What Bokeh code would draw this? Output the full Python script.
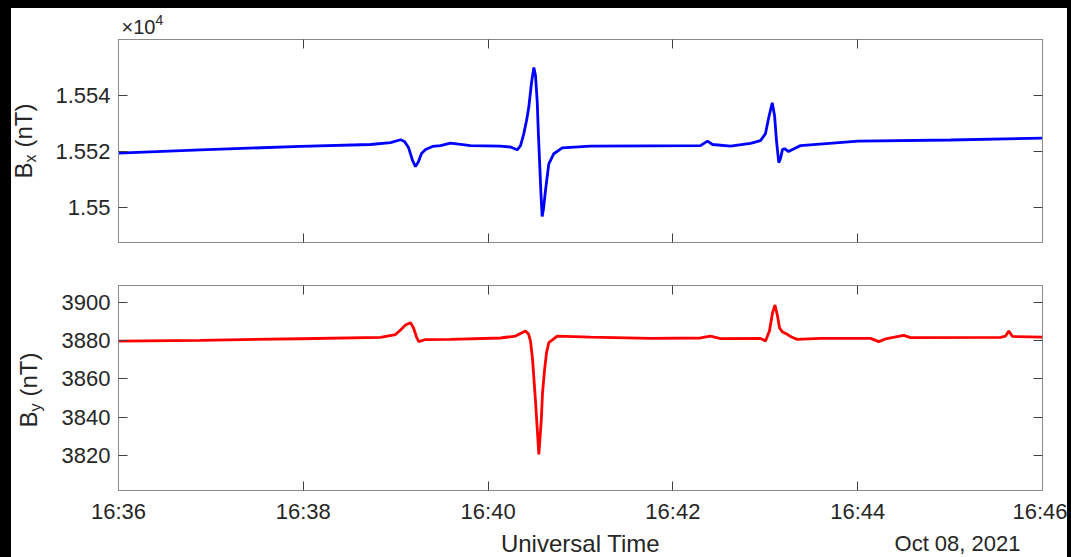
import math
import datetime as dt
from bokeh.plotting import figure
from bokeh.models import FixedTicker, LinearAxis, Range1d, ColumnDataSource
from bokeh.layouts import column, row
from bokeh.core.properties import value
from bokeh.embed import file_html
from bokeh.resources import INLINE

# ---------------- data (minutes after 16:36:00 UT, 2021-10-08) ----------------
BX_TIME_MIN = [0.000, 0.887, 1.970, 2.727, 2.944, 3.052, 3.095, 3.139, 3.182, 3.214,
               3.247, 3.279, 3.323, 3.398, 3.485, 3.593, 3.810, 4.134, 4.242, 4.315,
               4.351, 4.386, 4.416, 4.440, 4.470, 4.495, 4.513, 4.531, 4.545, 4.560,
               4.573, 4.585, 4.600, 4.621, 4.657, 4.711, 4.802, 5.108, 5.758, 6.299,
               6.374, 6.429, 6.623, 6.840, 6.948, 7.002, 7.035, 7.075, 7.100, 7.121,
               7.146, 7.165, 7.186, 7.208, 7.251, 7.316, 7.381, 8.005, 9.004, 10.000]
BX_NT = [15519.4, 15520.6, 15521.8, 15522.5, 15523.2, 15524.2, 15523.6, 15521.4, 15516.8, 15514.6,
         15516.4, 15519.3, 15520.7, 15521.8, 15522.1, 15523.0, 15522.1, 15521.9, 15521.6, 15520.6,
         15522.1, 15526.3, 15531.1, 15535.7, 15544.6, 15550.0, 15547.1, 15538.2, 15525.7, 15514.3,
         15504.3, 15496.8, 15499.6, 15506.1, 15515.6, 15519.2, 15521.3, 15521.9, 15522.0, 15522.1,
         15523.7, 15522.5, 15521.9, 15522.9, 15523.9, 15526.4, 15531.8, 15537.4, 15532.9, 15523.9,
         15516.0, 15517.5, 15520.7, 15521.0, 15520.0, 15521.1, 15522.1, 15523.7, 15524.1, 15524.8]

BY_TIME_MIN = [0.000, 0.887, 1.970, 2.835, 2.998, 3.052, 3.106, 3.160, 3.193, 3.225,
               3.250, 3.323, 3.593, 4.134, 4.297, 4.361, 4.405, 4.437, 4.459, 4.481,
               4.495, 4.513, 4.531, 4.549, 4.575, 4.589, 4.610, 4.632, 4.657, 4.748,
               5.108, 5.758, 6.299, 6.407, 6.515, 6.948, 7.002, 7.045, 7.078, 7.105,
               7.132, 7.154, 7.183, 7.237, 7.284, 7.345, 7.597, 8.139, 8.228, 8.301,
               8.499, 8.571, 9.545, 9.600, 9.635, 9.675, 10.000]
BY_NT = [3879.7, 3880.1, 3880.9, 3881.6, 3883.1, 3885.5, 3888.1, 3889.3, 3886.5, 3881.8,
         3879.4, 3880.5, 3880.6, 3881.3, 3882.3, 3883.9, 3885.0, 3883.4, 3879.7, 3870.3,
         3860.6, 3848.4, 3834.5, 3820.6, 3838.0, 3852.6, 3864.1, 3873.5, 3878.9, 3882.3,
         3881.8, 3881.1, 3881.3, 3882.3, 3881.0, 3881.1, 3879.7, 3885.0, 3894.4, 3898.5,
         3892.8, 3886.5, 3884.6, 3883.2, 3881.8, 3880.6, 3881.1, 3881.1, 3879.4, 3880.8,
         3882.7, 3881.5, 3881.6, 3882.3, 3885.0, 3882.1, 3881.8]

X_TICK_MIN = [0, 2, 4, 6, 8, 10]
X_TICK_LABELS = ["16:36", "16:38", "16:40", "16:42", "16:44", "16:46"]
BX_TICKS = [15500, 15520, 15540]
BX_TICK_LABELS = ["1.55", "1.552", "1.554"]
BY_TICKS = [3820, 3840, 3860, 3880, 3900]
BY_TICK_LABELS = ["3820", "3840", "3860", "3880", "3900"]
BX_LIM = (15487.5, 15560.0)
BY_LIM = (3801.7, 3908.7)
BX_LABEL = ("B", "x", "(nT)")
BY_LABEL = ("B", "y", "(nT)")
X_TITLE = "Universal Time"
DATE_TEXT = "Oct 08, 2021"
EXP_TEXT = ("\u00d710", "4")

# ---------------- helpers ----------------
EPOCH = dt.datetime(1970, 1, 1)
T0_MS = int((dt.datetime(2021, 10, 8, 16, 36) - EPOCH).total_seconds() * 1000)


def to_ms(m):
    return T0_MS + m * 60000.0


X0, X1 = to_ms(0), to_ms(10)
XT = [int(T0_MS + m * 60000) for m in X_TICK_MIN]

FONT = "Liberation Sans"
TXT = "#262626"
FRAME_W = 924
LEFT_W = 40          # width of the y-label strip
MAIN_LEFT = 67       # left border of the plots (tick labels)
RIGHT_B = 25
TOTAL_W = LEFT_W + MAIN_LEFT + FRAME_W + RIGHT_B
TOP_H = 29           # strip with the x10^4 multiplier
P1_H = 225
P2_H = 263
BOT_H = 32
MID = 0.3465         # baseline -> middle offset, in em


def style_axis(ax, labels=True, size="22px", standoff=8):
    ax.axis_line_color = "#8a8a8a"
    ax.axis_line_width = 1
    ax.major_tick_line_color = "#404040"
    ax.major_tick_line_width = 1
    ax.major_tick_in = 9
    ax.major_tick_out = 0
    ax.minor_tick_line_color = None
    ax.major_label_text_font = FONT
    if labels:
        ax.major_label_text_color = TXT
        ax.major_label_text_font_size = size
        ax.major_label_standoff = standoff
    else:
        ax.major_label_text_color = None
        ax.major_label_text_font_size = "1px"
        ax.major_label_standoff = 0


def make_fig(lim, top_b, fh, bottom_b):
    p = figure(frame_width=FRAME_W, frame_height=fh,
               min_border_left=MAIN_LEFT, min_border_right=RIGHT_B,
               min_border_top=top_b, min_border_bottom=bottom_b,
               x_range=Range1d(X0, X1), y_range=Range1d(*lim),
               x_axis_type="datetime", output_backend="svg",
               toolbar_location=None, background_fill_color="white",
               border_fill_color="white", outline_line_color=None)
    p.grid.visible = False
    return p


def add_box_axes(p, yticks):
    r = LinearAxis(ticker=FixedTicker(ticks=yticks))
    style_axis(r, labels=False)
    p.add_layout(r, "right")
    a = LinearAxis(ticker=FixedTicker(ticks=XT))
    style_axis(a, labels=False)
    p.add_layout(a, "above")


def text_fig(w, h):
    f = figure(width=w, height=h, min_border=0, x_axis_location=None,
               y_axis_location=None, x_range=Range1d(0, w), y_range=Range1d(0, h),
               output_backend="svg", toolbar_location=None,
               background_fill_color="white", border_fill_color="white",
               outline_line_color=None)
    f.grid.visible = False
    return f


def put(f, h, x, ytop, text, px, align="left", rotated=False):
    # (x, ytop): baseline start point, pixels from the strip's left / top edge
    off = MID * px
    if rotated:
        x, ang = x - off, math.pi / 2
    else:
        ytop, ang = ytop - off, 0.0
    f.text(x=[x], y=[h - ytop], text=[text], angle=ang,
           text_font=value(FONT), text_font_size=value(f"{px}px"), text_color=TXT,
           text_align=align, text_baseline="middle")


# ---------------- top panel: Bx ----------------
p1 = make_fig(BX_LIM, 2, 203, 20)
src1 = ColumnDataSource(dict(t=[to_ms(m) for m in BX_TIME_MIN], v=BX_NT))
p1.line("t", "v", source=src1, line_color="#0000ff", line_width=2.8)
p1.yaxis.ticker = FixedTicker(ticks=BX_TICKS)
p1.yaxis.major_label_overrides = dict(zip(BX_TICKS, BX_TICK_LABELS))
style_axis(p1.yaxis[0])
p1.xaxis.ticker = FixedTicker(ticks=XT)
style_axis(p1.xaxis[0], labels=False)
add_box_axes(p1, BX_TICKS)

# ---------------- bottom panel: By ----------------
p2 = make_fig(BY_LIM, 23, 205, 35)
src2 = ColumnDataSource(dict(t=[to_ms(m) for m in BY_TIME_MIN], v=BY_NT))
p2.line("t", "v", source=src2, line_color="#ff0000", line_width=2.8)
p2.yaxis.ticker = FixedTicker(ticks=BY_TICKS)
p2.yaxis.major_label_overrides = dict(zip(BY_TICKS, BY_TICK_LABELS))
style_axis(p2.yaxis[0])
p2.xaxis.ticker = FixedTicker(ticks=XT)
p2.xaxis.major_label_overrides = dict(zip(XT, X_TICK_LABELS))
style_axis(p2.xaxis[0], standoff=8)
add_box_axes(p2, BY_TICKS)

# ---------------- text strips ----------------
LH = P1_H + P2_H
lf = text_fig(LEFT_W, LH)
for lab, bx, by in ((BX_LABEL, 20, 141), (BY_LABEL, 25, 390)):
    put(lf, LH, bx, by, lab[0], 24, rotated=True)
    put(lf, LH, bx + 5, by - 16, lab[1], 16, rotated=True)
    put(lf, LH, bx, by - 31, lab[2], 24, rotated=True)

tf = text_fig(TOTAL_W, TOP_H)
put(tf, TOP_H, 110, 25, EXP_TEXT[0], 20)
put(tf, TOP_H, 144, 16, EXP_TEXT[1], 14)

bf = text_fig(TOTAL_W, BOT_H)
put(bf, BOT_H, LEFT_W + MAIN_LEFT + FRAME_W / 2, 25, X_TITLE, 24, align="center")
put(bf, BOT_H, 1009, 25, DATE_TEXT, 22, align="right")

layout = column(tf, row(lf, column(p1, p2)), bf)

TEMPLATE = """{% block postamble %}<style>
html { background: #000000 !important; overflow: hidden !important; }
body { background: #ffffff !important; margin: 8px 0 0 11px !important; padding: 0 !important;
       width: 1056px !important; height: 549px !important; overflow: hidden !important; }
</style>{% endblock %}"""

open("out.html", "w").write(file_html(layout, INLINE, template=TEMPLATE))
